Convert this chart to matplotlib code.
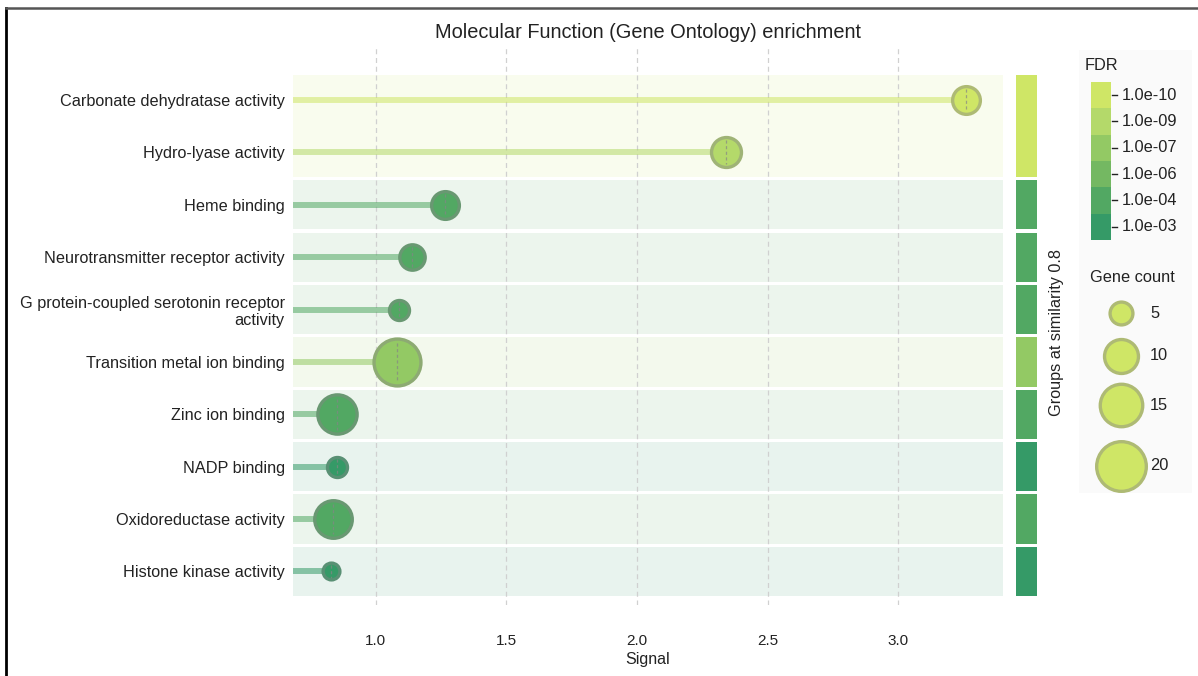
import numpy as np
import matplotlib
matplotlib.use("Agg")
import matplotlib.pyplot as plt
from matplotlib.patches import Rectangle
from matplotlib.colors import to_rgb

plt.rcParams['font.family'] = ['Liberation Sans', 'DejaVu Sans']

terms = ["Carbonate dehydratase activity", "Hydro-lyase activity", "Heme binding",
         "Neurotransmitter receptor activity",
         "G protein-coupled serotonin receptor\nactivity",
         "Transition metal ion binding", "Zinc ion binding", "NADP binding",
         "Oxidoreductase activity", "Histone kinase activity"]
signal = [3.26, 2.34, 1.265, 1.14, 1.09, 1.08, 0.85, 0.85, 0.835, 0.83]
gene_count = [7, 8, 7, 6, 4, 18, 13, 4, 12, 3]
fdr = [1e-10, 1e-9, 1e-4, 1e-4, 1e-4, 1e-7, 1e-4, 1e-3, 1e-4, 1e-3]
group = [0, 0, 1, 2, 3, 4, 5, 6, 7, 8]

fdr_levels = [1e-10, 1e-9, 1e-7, 1e-6, 1e-4, 1e-3]
fdr_labels = ["1.0e-10", "1.0e-09", "1.0e-07", "1.0e-06", "1.0e-04", "1.0e-03"]
fdr_colors = ["#cfe666", "#b4d96a", "#93c964", "#74b862", "#52a863", "#359a67"]
size_legend = [5, 10, 15, 20]

W, H = 1198, 676
fig = plt.figure(figsize=(W / 100, H / 100), dpi=100)


def color_for(f):
    i = int(np.argmin([abs(np.log10(f) - np.log10(l)) for l in fdr_levels]))
    return fdr_colors[i]


def edge_for(c, k=0.45):
    r = np.array(to_rgb(c))
    return tuple(r * (1 - k) + np.array([0.52, 0.52, 0.52]) * k)


def diam_px(n):
    return 12 * np.sqrt(n) - 4


def px(x0, y0, x1, y1):
    return [x0 / W, 1 - y1 / H, (x1 - x0) / W, (y1 - y0) / H]


row_px = 52.4
ax = fig.add_axes(px(293, 45, 1003, 605))
ax.set_xlim(0.683, 3.40)
ax.set_ylim(9.64, -1.05)
for s in ax.spines.values():
    s.set_visible(False)
ax.tick_params(length=0, pad=6)
ax.set_xticks([1.0, 1.5, 2.0, 2.5, 3.0])
ax.set_xticklabels(["1.0", "1.5", "2.0", "2.5", "3.0"], fontsize=11, color='#222222')
ax.xaxis.set_tick_params(pad=21)
ax.grid(axis='x', color='#d0d0d0', linestyle=(0, (4, 3)), linewidth=0.9, zorder=0)
ax.set_axisbelow(True)
ax.set_xlabel("Signal", fontsize=11.5, labelpad=3, color='#222222')
ax.set_yticks(range(len(terms)))
ax.set_yticklabels(terms, fontsize=11.7, color='#222222')
for t in ax.get_yticklabels():
    t.set_multialignment('right')

# group extents
groups = sorted(set(group))
gax = fig.add_axes(px(1016, 45, 1037, 605), sharey=ax)
gax.set_xlim(0, 1)
gax.axis('off')
for g in groups:
    idx = [i for i in range(len(terms)) if group[i] == g]
    top, bot = min(idx) - 0.47, max(idx) + 0.47
    gc = color_for(min(fdr[i] for i in idx))
    ax.add_patch(Rectangle((0.683, top), 3.40 - 0.683, bot - top, facecolor=gc,
                           alpha=0.11, edgecolor='none', zorder=0.5))
    gax.add_patch(Rectangle((0, top), 1, bot - top, facecolor=gc, edgecolor='none'))

for i, (x, n, f) in enumerate(zip(signal, gene_count, fdr)):
    c = color_for(f)
    ax.plot([0.683, x], [i, i], color=c, alpha=0.55, linewidth=4.3,
            solid_capstyle='butt', zorder=2)
    d = diam_px(n)
    ax.scatter([x], [i], s=(d * 0.72) ** 2, color=c, edgecolors=[edge_for(c)],
               linewidths=2.4, zorder=3)
    h = d * 0.4 / row_px
    ax.plot([x, x], [i - h, i + h], color=edge_for(c, 0.7), linewidth=0.9,
            linestyle=(0, (2.5, 2)), zorder=4)

ax.set_title("Molecular Function (Gene Ontology) enrichment", fontsize=14.4,
             pad=5, color='#222222')
fig.text(1057 / W, 1 - 332 / H, "Groups at similarity 0.8", rotation=90,
         ha='center', va='center', fontsize=11.7, color='#222222')

# legend panel in pixel coordinates
lax = fig.add_axes([0, 0, 1, 1], zorder=-1)
lax.set_xlim(0, W)
lax.set_ylim(H, 0)
lax.axis('off')
lax.add_patch(Rectangle((1079, 50), 113, 443, facecolor='#fafafa', edgecolor='none'))
lax.text(1085, 66, "FDR", fontsize=11.8, va='center', ha='left', color='#222222')
bh = 26.3
for k, (lab, col) in enumerate(zip(fdr_labels, fdr_colors)):
    y0 = 82 + k * bh
    lax.add_patch(Rectangle((1091, y0), 20, bh, facecolor=col, edgecolor='none'))
    lax.plot([1112, 1117], [y0 + bh / 2, y0 + bh / 2], color='#222222', linewidth=1)
    lax.text(1122, y0 + bh / 2, lab, fontsize=11.8, va='center', ha='left', color='#222222')

lax.text(1132, 278, "Gene count", fontsize=11.8, va='center', ha='center', color='#222222')
for n, yy in zip(size_legend, [313, 356, 405, 466]):
    d = diam_px(n)
    lax.scatter([1121], [yy], s=(d * 0.72) ** 2, color=fdr_colors[0],
                edgecolors=[edge_for(fdr_colors[0])], linewidths=2.4)
    lax.text(1150, yy, str(n), fontsize=11.8, va='center', ha='left', color='#222222')

# frame lines
lax.plot([6, 6], [8, H], color='black', linewidth=2)
lax.plot([6, W], [8, 8], color='#555555', linewidth=1.8)

fig.savefig("out.png", dpi=100)
